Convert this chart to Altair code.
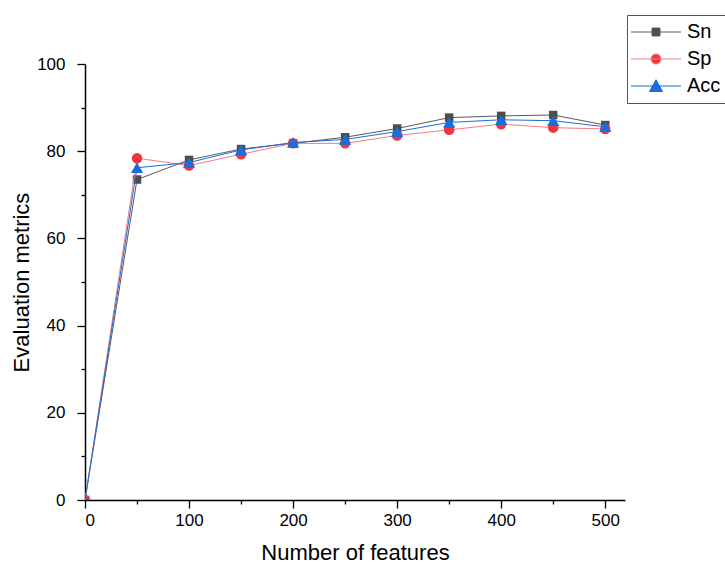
import altair as alt
import pandas as pd

features = [0, 50, 100, 150, 200, 250, 300, 350, 400, 450, 500]
sn = [0, 73.5, 78.0, 80.5, 81.8, 83.2, 85.2, 87.7, 88.1, 88.3, 86.0]
sp = [0, 78.4, 76.7, 79.3, 81.8, 81.8, 83.6, 84.9, 86.2, 85.4, 85.1]
acc = [0, 76.2, 77.4, 80.3, 82.0, 82.7, 84.5, 86.6, 87.2, 87.0, 85.6]

series_names = ["Sn", "Sp", "Acc"]
marker_colors = ["#4d4d4d", "#f0363c", "#1a6ddd"]
line_colors = ["#5a5a5a", "#f77a7d", "#1a6ddd"]
marker_shapes = ["square", "circle", "triangle-up"]
marker_sizes = [72, 110, 150]
# legend symbols: a line segment with the marker on it (unit = 5 px at size 100)
legend_paths = [
    "M-5,0H5M-0.8,-0.8H0.8V0.8H-0.8Z",
    "M-5,0H5M-1,0A1,1,0,1,0,1,0A1,1,0,1,0,-1,0Z",
    "M-5,0H5M0,-1.25L1.3,1.1H-1.3Z",
]

rows = []
for name, vals in zip(series_names, [sn, sp, acc]):
    for f, v in zip(features, vals):
        rows.append({"features": f, "value": v, "series": name})
df = pd.DataFrame(rows)

FONT = "Liberation Sans"

x_enc = alt.X(
    "features:Q",
    scale=alt.Scale(domain=[0, 519], nice=False, zero=False),
    axis=alt.Axis(
        title="Number of features",
        values=list(range(0, 501, 50)),
        labelExpr="datum.value % 100 === 0 ? datum.label : ''",
        tickSize={"expr": "datum.value % 100 === 0 ? 8 : 4"},
        grid=False,
        labelPadding=4,
        titlePadding=14,
    ),
)
y_enc = alt.Y(
    "value:Q",
    scale=alt.Scale(domain=[0, 100], nice=False),
    axis=alt.Axis(
        title="Evaluation metrics",
        values=list(range(0, 101, 10)),
        labelExpr="datum.value % 20 === 0 ? datum.label : ''",
        tickSize={"expr": "datum.value % 20 === 0 ? 8 : 4"},
        grid=False,
        labelPadding=12,
        titlePadding=3,
    ),
)

base = alt.Chart(df)
layers = []
for name, mc, lc, shp, sz in zip(series_names, marker_colors, line_colors, marker_shapes, marker_sizes):
    sub = base.transform_filter(alt.datum.series == name)
    layers.append(sub.mark_line(color=lc, strokeWidth=1, clip=True).encode(x=x_enc, y=y_enc))
    layers.append(
        sub.mark_point(shape=shp, filled=True, color=mc, size=sz, opacity=1, clip=True).encode(x=x_enc, y=y_enc)
    )

legend_layer = (
    base.transform_filter("false")
    .mark_point(filled=True, opacity=1)
    .encode(
        x=x_enc,
        y=y_enc,
        fill=alt.Fill(
            "series:N",
            scale=alt.Scale(domain=series_names, range=marker_colors),
            legend=alt.Legend(
                title=None,
                orient="none",
                legendX=542,
                legendY=-49,
                symbolSize=100,
                symbolStrokeWidth=1,
                symbolOffset=12,
                labelFontSize=20,
                labelFont=FONT,
                labelColor="#000000",
                labelOffset=21,
                rowPadding=7,
                padding=7,
                strokeColor="#555555",
                symbolOpacity=1,
            ),
        ),
        stroke=alt.Stroke(
            "series:N",
            scale=alt.Scale(domain=series_names, range=line_colors),
            legend=alt.Legend(title=None),
        ),
        shape=alt.Shape(
            "series:N",
            scale=alt.Scale(domain=series_names, range=legend_paths),
            legend=alt.Legend(title=None),
        ),
    )
)

chart = (
    alt.layer(*layers, legend_layer)
    .properties(
        width=540,
        height=436,
        autosize=alt.AutoSizeParams(type="none"),
        padding={"left": 85, "top": 64, "right": 100, "bottom": 63},
        background="white",
    )
    .configure_view(stroke=None)
    .configure_axis(
        domainColor="#000000",
        domainWidth=1.5,
        tickColor="#000000",
        tickWidth=1.3,
        labelFont=FONT,
        labelFontSize=17,
        labelColor="#000000",
        titleFont=FONT,
        titleFontSize=22,
        titleFontWeight="normal",
        titleColor="#000000",
    )
)

chart.save("out.html", embed_options={"renderer": "svg", "actions": False})
